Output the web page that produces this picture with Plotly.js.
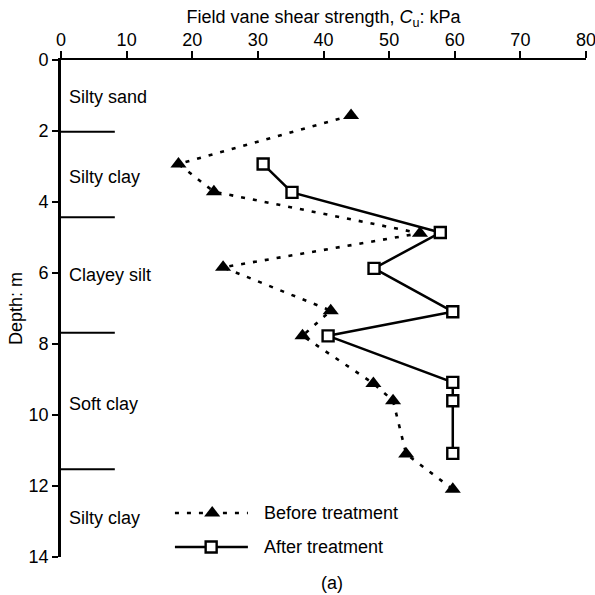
<!DOCTYPE html>
<html>
<head>
<meta charset="utf-8">
<script src="https://cdn.plot.ly/plotly-3.0.1.min.js"></script>
<style>
  html, body { margin: 0; padding: 0; background: #fff; }
  #chart { width: 595px; height: 595px; }
</style>
</head>
<body>
<div id="chart"></div>
<script>
// Field vane shear strength profiles (kPa) against depth (m)
const beforeCu    = [44.2, 17.9, 23.3, 54.7, 24.7, 41.1, 36.8, 47.6, 50.6, 52.6, 59.7];
const beforeDepth = [1.56, 2.93, 3.71, 4.88, 5.84, 7.06, 7.77, 9.11, 9.60, 11.1, 12.09];

const afterCu     = [30.8, 35.2, 57.8, 47.7, 59.7, 40.7, 59.7, 59.7, 59.7];
const afterDepth  = [2.93, 3.73, 4.86, 5.87, 7.09, 7.77, 9.08, 9.60, 11.08];

// Soil layers: boundary depths and names
const layerBounds = [2.02, 4.43, 7.68, 11.53];
const layerNames  = ['Silty sand', 'Silty clay', 'Clayey silt', 'Soft clay', 'Silty clay'];
const layerLabelDepths = [1.05, 3.3, 6.05, 9.7, 12.9];

const seriesNames = ['Before treatment', 'After treatment'];
const xTicks = [0, 10, 20, 30, 40, 50, 60, 70, 80];
const yTicks = [0, 2, 4, 6, 8, 10, 12, 14];

const FONT = 'Liberation Sans, Arial, Helvetica, sans-serif';
const FS = 18;
const beforeLine = { color: '#000', width: 2.6, dash: '4px,8px' };
const afterLine  = { color: '#000', width: 2.5 };
const beforeMarker = { symbol: 'triangle-up', size: 14, color: '#000', line: { width: 0 } };
const afterMarker  = { symbol: 'square', size: 11, color: '#fff', line: { color: '#000', width: 2.4 } };

// legend sample geometry, in the overlay axis (0..1 across the plot area)
const legendLineX = [0.217, 0.356];
const legendRowY  = [0.0885, 0.020];
const legendMarkX = [0.288, 0.286];
const legendTextX = 0.383;

const traces = [
  { x: beforeCu, y: beforeDepth, mode: 'lines+markers', line: beforeLine, marker: beforeMarker,
    name: seriesNames[0], showlegend: false, cliponaxis: false },
  { x: afterCu, y: afterDepth, mode: 'lines+markers', line: afterLine, marker: afterMarker,
    name: seriesNames[1], showlegend: false, cliponaxis: false },
  { x: legendLineX, y: [legendRowY[0], legendRowY[0]], mode: 'lines',
    line: beforeLine, showlegend: false, hoverinfo: 'skip' },
  { x: [legendMarkX[0]], y: [legendRowY[0]], mode: 'markers',
    marker: beforeMarker, showlegend: false, hoverinfo: 'skip' },
  { x: legendLineX, y: [legendRowY[1], legendRowY[1]], mode: 'lines',
    line: afterLine, showlegend: false, hoverinfo: 'skip' },
  { x: [legendMarkX[1]], y: [legendRowY[1]], mode: 'markers',
    marker: afterMarker, showlegend: false, hoverinfo: 'skip' }
];
traces.slice(2).forEach(t => { t.xaxis = 'x2'; t.yaxis = 'y2'; });

const shapes = layerBounds.map(d => ({
  type: 'line', xref: 'x', yref: 'y', x0: 0, x1: 8.2, y0: d, y1: d,
  line: { color: '#000', width: 2 }
}));

const annotations = layerNames.map((name, i) => ({
  x: 0.9, y: layerLabelDepths[i], xref: 'x', yref: 'y', text: name,
  showarrow: false, xanchor: 'left', yanchor: 'middle',
  font: { family: FONT, size: FS, color: '#000' }
}));
seriesNames.forEach((name, i) => {
  annotations.push({
    x: legendTextX, y: legendRowY[i], xref: 'x2 domain', yref: 'y2 domain',
    text: name, showarrow: false, xanchor: 'left', yanchor: 'middle',
    font: { family: FONT, size: FS, color: '#000' }
  });
});
annotations.push({
  x: 0.516, y: -0.052, xref: 'paper', yref: 'paper', text: '(a)', showarrow: false,
  xanchor: 'center', yanchor: 'middle', font: { family: FONT, size: FS, color: '#000' }
});

const layout = {
  width: 595, height: 595,
  margin: { l: 61, r: 9, t: 60, b: 38 },
  paper_bgcolor: '#fff', plot_bgcolor: '#fff',
  showlegend: false,
  font: { family: FONT, size: FS, color: '#000' },
  xaxis: {
    side: 'top', range: [0, 80], tickvals: xTicks, ticktext: xTicks.map(String),
    showgrid: false, zeroline: false, showline: true, linecolor: '#000', linewidth: 2.2,
    ticks: 'outside', ticklen: 7, tickwidth: 2, tickcolor: '#000',
    ticklabeloverflow: 'allow', ticklabelstandoff: -2,
    tickfont: { family: FONT, size: FS },
    title: { text: 'Field vane shear strength, <i>C</i><sub>u</sub>: kPa', standoff: 1,
             font: { family: FONT, size: FS } }
  },
  yaxis: {
    range: [14, 0], tickvals: yTicks, ticktext: yTicks.map(String),
    showgrid: false, zeroline: false, showline: true, linecolor: '#000', linewidth: 2.8,
    ticks: 'outside', ticklen: 6, tickwidth: 2, tickcolor: '#000',
    tickfont: { family: FONT, size: FS },
    title: { text: 'Depth: m', standoff: 2, font: { family: FONT, size: FS } }
  },
  xaxis2: { overlaying: 'x', range: [0, 1], visible: false, fixedrange: true },
  yaxis2: { overlaying: 'y', range: [0, 1], visible: false, fixedrange: true, anchor: 'x2' },
  shapes: shapes,
  annotations: annotations
};

Plotly.newPlot('chart', traces, layout, { staticPlot: true, displayModeBar: false });
</script>
</body>
</html>
